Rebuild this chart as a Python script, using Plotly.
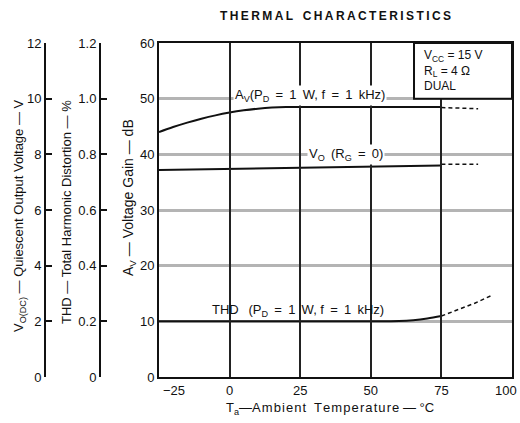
import plotly.graph_objects as go

# ---------------- data ----------------
temp_ticks = [-25, 0, 25, 50, 75, 100]
temp_ticktext = ["−25", "0", "25", "50", "75", "100"]
gain_ticks = [0, 10, 20, 30, 40, 50, 60]
gain_ticktext = ["0", "10", "20", "30", "40", "50", "60"]
vo_ticks = [0, 2, 4, 6, 8, 10, 12]
vo_ticktext = ["0", "2", "4", "6", "8", "10", "12"]
thd_ticks = [0, 0.2, 0.4, 0.6, 0.8, 1.0, 1.2]
thd_ticktext = ["0", "0.2", "0.4", "0.6", "0.8", "1.0", "1.2"]

# Voltage gain Av (dB), solid (measured) and dashed (extrapolated)
av_temp = [-25, -20, -15, -10, -5, 0, 5, 10, 15, 20, 25, 50, 75]
av_db = [44.0, 44.9, 45.7, 46.4, 47.0, 47.5, 47.9, 48.2, 48.4, 48.5, 48.5, 48.5, 48.5]
av_ext_temp = [75, 88]
av_ext_db = [48.4, 48.2]

# Quiescent output voltage Vo(DC) (V)
vo_temp = [-25, 0, 25, 50, 75]
vo_volt = [7.44, 7.48, 7.52, 7.56, 7.60]
vo_ext_temp = [75, 88]
vo_ext_volt = [7.64, 7.64]

# THD (%)
thd_temp = [-25, 0, 25, 50, 60, 65, 70, 75]
thd_pct = [0.200, 0.200, 0.200, 0.200, 0.201, 0.204, 0.210, 0.219]
thd_ext_temp = [75, 81, 87, 93]
thd_ext_pct = [0.219, 0.242, 0.266, 0.294]

# ---------------- layout helpers ----------------
W, H = 520, 423
def px(x):
    return x / W
def py(y):
    return 1 - y / H

HAIR, THIN = "\u200a", "\u2009"
def spaced(words, ch, gap):
    return gap.join(ch.join(w) for w in words.split(" "))

FONT = "Liberation Sans, Arial, sans-serif"
BLACK = "#111111"

fig = go.Figure()

fig.add_trace(go.Scatter(x=av_temp, y=av_db, mode="lines", line=dict(color=BLACK, width=2, shape="spline"),
                         xaxis="x", yaxis="y", showlegend=False))
fig.add_trace(go.Scatter(x=av_ext_temp, y=av_ext_db, mode="lines", line=dict(color=BLACK, width=1.5, dash="4px,3px"),
                         xaxis="x", yaxis="y", showlegend=False))
fig.add_trace(go.Scatter(x=vo_temp, y=vo_volt, mode="lines", line=dict(color=BLACK, width=2),
                         xaxis="x", yaxis="y2", showlegend=False))
fig.add_trace(go.Scatter(x=vo_ext_temp, y=vo_ext_volt, mode="lines", line=dict(color=BLACK, width=1.5, dash="4px,3px"),
                         xaxis="x", yaxis="y2", showlegend=False))
fig.add_trace(go.Scatter(x=thd_temp, y=thd_pct, mode="lines", line=dict(color=BLACK, width=2, shape="spline"),
                         xaxis="x", yaxis="y3", showlegend=False))
fig.add_trace(go.Scatter(x=thd_ext_temp, y=thd_ext_pct, mode="lines", line=dict(color=BLACK, width=1.5, dash="4px,3px"),
                         xaxis="x", yaxis="y3", showlegend=False))

PLOT_TOP, PLOT_BOTTOM, PLOT_LEFT, PLOT_RIGHT = 43, 377, 159, 512
x_dom = [px(PLOT_LEFT), px(PLOT_RIGHT)]
y_dom = [py(PLOT_BOTTOM), py(PLOT_TOP)]

tickfont = dict(family=FONT, size=13, color=BLACK)

# the two end labels of the temperature axis are placed as annotations (shifted inward as in the reference)
axis_ticktext = [""] + temp_ticktext[1:-1] + [""]

fig.update_layout(
    width=W, height=H,
    margin=dict(l=0, r=0, t=0, b=0, autoexpand=False),
    paper_bgcolor="white", plot_bgcolor="white",
    font=dict(family=FONT, color=BLACK),
    xaxis=dict(domain=x_dom, range=[-25, 100], tickvals=temp_ticks, ticktext=axis_ticktext,
               showgrid=True, gridcolor="#222222", gridwidth=2, zeroline=False,
               showline=True, linecolor=BLACK, linewidth=2, mirror=True, automargin=False,
               ticks="inside", ticklen=PLOT_BOTTOM - PLOT_TOP, tickwidth=2, tickcolor="#222222",
               ticklabeloverflow="allow", tickfont=tickfont, anchor="y"),
    yaxis=dict(domain=y_dom, range=[0, 60], tickvals=gain_ticks, ticktext=gain_ticktext,
               showgrid=True, gridcolor="#b4b4b4", gridwidth=3, zeroline=False,
               showline=True, linecolor=BLACK, linewidth=2, mirror=True, automargin=False,
               ticks="", ticklabeloverflow="allow", tickfont=tickfont, anchor="x"),
    yaxis2=dict(domain=y_dom, range=[0, 12], tickvals=vo_ticks, ticktext=vo_ticktext,
                overlaying="y", anchor="free", position=px(45), side="left", automargin=False,
                showgrid=False, zeroline=False, showline=True, linecolor=BLACK, linewidth=2,
                ticks="inside", ticklen=6, tickwidth=1.5, tickcolor=BLACK,
                ticklabeloverflow="allow", tickfont=tickfont),
    yaxis3=dict(domain=y_dom, range=[0, 1.2], tickvals=thd_ticks, ticktext=thd_ticktext,
                overlaying="y", anchor="free", position=px(100), side="left", automargin=False,
                showgrid=False, zeroline=False, showline=True, linecolor=BLACK, linewidth=2,
                ticks="inside", ticklen=6, tickwidth=1.5, tickcolor=BLACK,
                ticklabeloverflow="allow", tickfont=tickfont),
)

# condition box (top right)
fig.add_shape(type="rect", xref="x", yref="y", x0=65.3, x1=100, y0=50, y1=60,
              line=dict(color=BLACK, width=2), fillcolor="white", layer="above")

def note(text, x, y, xref="paper", yref="paper", **kw):
    d = dict(text=text, x=x, y=y, xref=xref, yref=yref, showarrow=False,
             xanchor=kw.pop("xanchor", "center"), yanchor=kw.pop("yanchor", "middle"),
             font=dict(family=FONT, size=kw.pop("size", 13), color=BLACK))
    d.update(kw)
    return d

title_txt = "<b>" + spaced("THERMAL CHARACTERISTICS", THIN, THIN * 4) + "</b>"
eq = THIN + "=" + THIN
ann = [
    note(title_txt, px(335), py(16), size=12),
    note("V<sub>CC</sub> = 15 V<br>R<sub>L</sub> = 4 Ω<br>DUAL", 68, 59.4, "x", "y",
         xanchor="left", yanchor="top", align="left", size=12),
    note(f"A<sub>V</sub>(P<sub>D</sub> {eq} 1{THIN} W, f {eq} 1{THIN} kHz)", 1.2, 50.6, "x", "y",
         xanchor="left", bgcolor="white", size=13),
    note(f"V<sub>O</sub>{THIN} (R<sub>G</sub> {eq} 0)", 27.4, 39.9, "x", "y",
         xanchor="left", bgcolor="white", size=13),
    note(f"THD{THIN}  (P<sub>D</sub> {eq} 1{THIN} W, f {eq} 1{THIN} kHz)", -6.9, 12.0, "x", "y",
         xanchor="left", size=13),
    note(temp_ticktext[0], temp_ticks[0], py(390), "x", "paper", xanchor="left", xshift=2, size=13),
    note(temp_ticktext[-1], temp_ticks[-1], py(390), "x", "paper", xanchor="right", xshift=7, size=13),
    note("T<sub>a</sub>—" + spaced("Ambient", HAIR, "") + THIN * 3 + spaced("Temperature", HAIR, "")
         + " — °C", px(330), py(408), size=13),
    note("V<sub>O(DC)</sub> — Quiescent Output Voltage — V", px(20), py(216), textangle=-90, size=13),
    note("THD — Total Harmonic Distortion — %", px(67), py(212), textangle=-90, size=13),
    note("A<sub>V</sub> — Voltage Gain — dB", px(129), py(198), textangle=-90, size=14),
]
fig.update_layout(annotations=ann)

fig.write_html("out.html", config={"displayModeBar": False},
               post_script="document.body.style.margin='0';document.body.style.overflow='hidden';")
